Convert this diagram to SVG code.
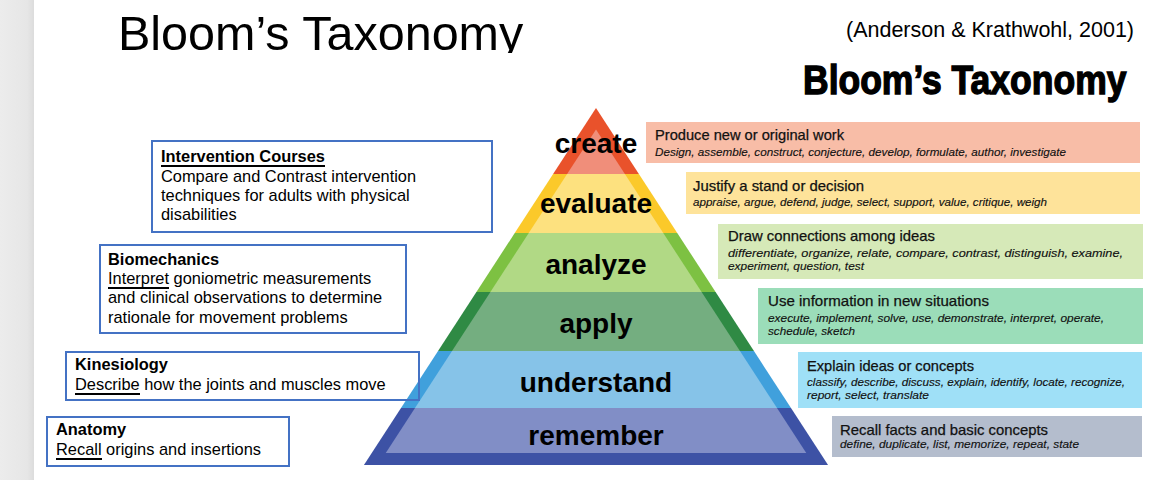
<svg xmlns="http://www.w3.org/2000/svg" width="1166" height="480" viewBox="0 0 1166 480">
<defs>
<linearGradient id="strip" x1="0" y1="0" x2="1" y2="0">
<stop offset="0" stop-color="#ececec"/>
<stop offset="0.8" stop-color="#e6e6e6"/>
<stop offset="1" stop-color="#dcdcdc"/>
</linearGradient>
<clipPath id="titleclip"><rect x="0" y="0" width="640" height="53"/></clipPath>
</defs>
<style>
.lvl{font-family:"Liberation Sans",Arial,sans-serif;font-weight:bold;font-size:28px;fill:#000;text-anchor:middle}
.rt{font-family:"Liberation Sans",Arial,sans-serif;font-size:14.5px;fill:#111;stroke:#111;stroke-width:0.25}
.rs{font-family:"Liberation Sans",Arial,sans-serif;font-size:11.8px;font-style:italic;fill:#111;stroke:#111;stroke-width:0.15}
.lb{fill:none;stroke:#4472c4;stroke-width:2}
.lt{font-family:"Liberation Sans",Arial,sans-serif;font-size:16.4px;fill:#000}
.ltb{font-weight:bold}
.uline{stroke:#000;stroke-width:2}
</style>
<rect x="0" y="0" width="1166" height="480" fill="#ffffff"/>
<rect x="0" y="0" width="34" height="480" fill="url(#strip)"/>

<g id="header">
<text x="118" y="50" clip-path="url(#titleclip)" font-family="Liberation Sans, Arial, sans-serif" font-size="48.5" fill="#000">Bloom’s Taxonomy</text>
<text x="846" y="37" font-family="Liberation Sans, Arial, sans-serif" font-size="21.5" fill="#000">(Anderson &amp; Krathwohl, 2001)</text>
<text transform="translate(803,94) scale(1,1.12)" x="0" y="0" font-family="Liberation Sans, Arial, sans-serif" font-weight="bold" font-size="35.5" fill="#000" stroke="#000" stroke-width="1.2">Bloom’s Taxonomy</text>
</g>

<g id="pyramid">
<g id="lvl-create">
<polygon points="596,108 638.9,174 553.1,174" fill="#e9522b"/>
<polygon points="596,129.5 624.9,174 567.1,174" fill="#f08e7a"/>
<text class="lvl" x="596" y="153">create</text>
</g>
<g id="lvl-evaluate">
<polygon points="553.1,174 638.9,174 677.25,233 514.75,233" fill="#fbc92a"/>
<polygon points="567.1,174 624.9,174 663.25,233 528.75,233" fill="#fde17f"/>
<text class="lvl" x="596" y="213">evaluate</text>
</g>
<g id="lvl-analyze">
<polygon points="514.75,233 677.25,233 715.6,292 476.4,292" fill="#7dc142"/>
<polygon points="528.75,233 663.25,233 701.6,292 490.4,292" fill="#b1d985"/>
<text class="lvl" x="596" y="274">analyze</text>
</g>
<g id="lvl-apply">
<polygon points="476.4,292 715.6,292 753.95,351 438.05,351" fill="#2f8a44"/>
<polygon points="490.4,292 701.6,292 739.95,351 452.05,351" fill="#74ae80"/>
<text class="lvl" x="596" y="333">apply</text>
</g>
<g id="lvl-understand">
<polygon points="438.05,351 753.95,351 791,408 401,408" fill="#40a0dc"/>
<polygon points="452.05,351 739.95,351 777,408 415,408" fill="#86c3e8"/>
<text class="lvl" x="596" y="392">understand</text>
</g>
<g id="lvl-remember">
<polygon points="401,408 791,408 828.05,465 363.95,465" fill="#3d52a5"/>
<polygon points="415,408 777,408 806.25,453 385.75,453" fill="#818ec6"/>
<text class="lvl" x="596" y="445">remember</text>
</g>
</g>

<g id="desc-create">
<rect x="646" y="122" width="494" height="41" fill="#f8bda7"/>
<text class="rt" x="655" y="140" textLength="189" lengthAdjust="spacingAndGlyphs">Produce new or original work</text>
<text class="rs" x="655" y="156" textLength="411" lengthAdjust="spacingAndGlyphs">Design, assemble, construct, conjecture, develop, formulate, author, investigate</text>
</g>
<g id="desc-evaluate">
<rect x="686" y="172" width="454" height="42" fill="#fee39a"/>
<text class="rt" x="693" y="191" textLength="171" lengthAdjust="spacingAndGlyphs">Justify a stand or decision</text>
<text class="rs" x="693" y="206" textLength="354" lengthAdjust="spacingAndGlyphs">appraise, argue, defend, judge, select, support, value, critique, weigh</text>
</g>
<g id="desc-analyze">
<rect x="718" y="224" width="425" height="55" fill="#d6e9b8"/>
<text class="rt" x="728" y="241" textLength="207" lengthAdjust="spacingAndGlyphs">Draw connections among ideas</text>
<text class="rs" x="728" y="257" textLength="395" lengthAdjust="spacingAndGlyphs">differentiate, organize, relate, compare, contrast, distinguish, examine,</text>
<text class="rs" x="728" y="270" textLength="136" lengthAdjust="spacingAndGlyphs">experiment, question, test</text>
</g>
<g id="desc-apply">
<rect x="758" y="288" width="385" height="56" fill="#9bddb9"/>
<text class="rt" x="768" y="306" textLength="221" lengthAdjust="spacingAndGlyphs">Use information in new situations</text>
<text class="rs" x="768" y="322" textLength="336" lengthAdjust="spacingAndGlyphs">execute, implement, solve, use, demonstrate, interpret, operate,</text>
<text class="rs" x="768" y="335" textLength="87" lengthAdjust="spacingAndGlyphs">schedule, sketch</text>
</g>
<g id="desc-understand">
<rect x="798" y="352" width="344" height="56" fill="#9fe0f7"/>
<text class="rt" x="807" y="371" textLength="167" lengthAdjust="spacingAndGlyphs">Explain ideas or concepts</text>
<text class="rs" x="807" y="386" textLength="318" lengthAdjust="spacingAndGlyphs">classify, describe, discuss, explain, identify, locate, recognize,</text>
<text class="rs" x="807" y="399" textLength="122" lengthAdjust="spacingAndGlyphs">report, select, translate</text>
</g>
<g id="desc-remember">
<rect x="832" y="416" width="310" height="41" fill="#b4bdcd"/>
<text class="rt" x="840" y="435" textLength="208" lengthAdjust="spacingAndGlyphs">Recall facts and basic concepts</text>
<text class="rs" x="840" y="448" textLength="239" lengthAdjust="spacingAndGlyphs">define, duplicate, list, memorize, repeat, state</text>
</g>

<g id="course-intervention">
<rect class="lb" x="152" y="141" width="340" height="91"/>
<text class="lt ltb" x="161" y="162">Intervention Courses</text>
<line class="uline" x1="161" y1="166" x2="325" y2="166"/>
<text class="lt" x="161" y="182">Compare and Contrast intervention</text>
<text class="lt" x="161" y="201">techniques for adults with physical</text>
<text class="lt" x="161" y="220">disabilities</text>
</g>
<g id="course-biomechanics">
<rect class="lb" x="100" y="245" width="306" height="88"/>
<text class="lt ltb" x="108" y="265">Biomechanics</text>
<text class="lt" x="108" y="284">Interpret goniometric measurements</text>
<line class="uline" x1="108" y1="288" x2="169" y2="288"/>
<text class="lt" x="108" y="303">and clinical observations to determine</text>
<text class="lt" x="108" y="323">rationale for movement problems</text>
</g>
<g id="course-kinesiology">
<rect class="lb" x="66" y="352" width="353" height="48"/>
<text class="lt ltb" x="75" y="370">Kinesiology</text>
<text class="lt" x="75" y="390">Describe how the joints and muscles move</text>
<line class="uline" x1="75" y1="394" x2="140" y2="394"/>
</g>
<g id="course-anatomy">
<rect class="lb" x="47" y="417" width="242" height="49"/>
<text class="lt ltb" x="56" y="435">Anatomy</text>
<text class="lt" x="56" y="455">Recall origins and insertions</text>
<line class="uline" x1="56" y1="459" x2="102" y2="459"/>
</g>
<g id="connectors"/>
</svg>
